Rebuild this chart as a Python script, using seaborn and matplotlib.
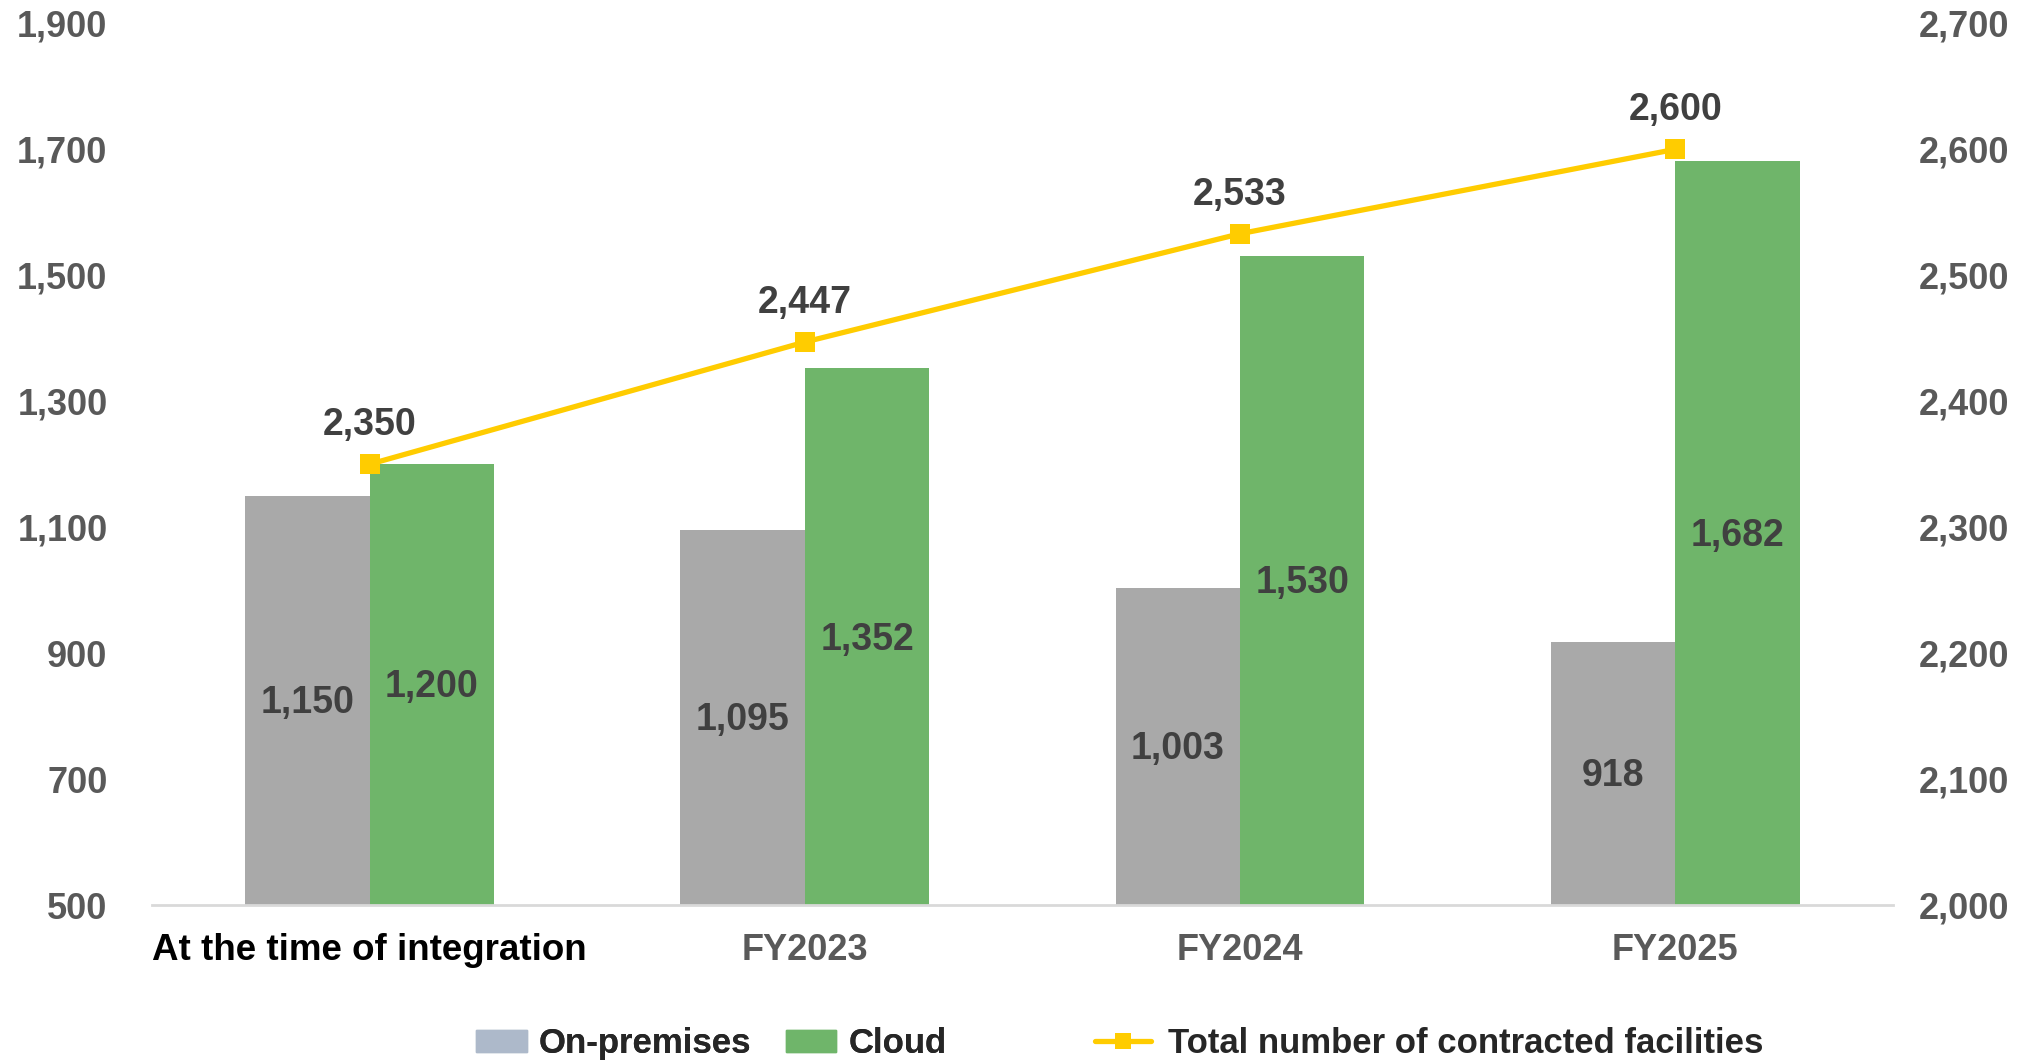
import numpy as np
import pandas as pd
import matplotlib
matplotlib.use("Agg")
import matplotlib.pyplot as plt
from matplotlib.lines import Line2D
from matplotlib.patches import Patch
import seaborn as sns

categories = ["At the time of integration", "FY2023", "FY2024", "FY2025"]
on_premises = [1150, 1095, 1003, 918]
cloud = [1200, 1352, 1530, 1682]
total_facilities = [2350, 2447, 2533, 2600]
left_ticks = [500, 700, 900, 1100, 1300, 1500, 1700, 1900]
right_ticks = [2000, 2100, 2200, 2300, 2400, 2500, 2600, 2700]

GREY = "#A9A9A9"
GREEN = "#6FB56A"
YELLOW = "#FFCC00"
LEGEND_GREY = "#ADB9CA"
TICK_COLOR = "#595959"
VALUE_COLOR = "#404040"

sns.set_theme(style="white")
plt.rcParams["font.family"] = ["Liberation Sans", "DejaVu Sans"]
plt.rcParams["font.weight"] = "bold"

df = pd.DataFrame({
    "category": categories * 2,
    "type": ["On-premises"] * 4 + ["Cloud"] * 4,
    "value": on_premises + cloud,
})

fig = plt.figure(figsize=(20.33, 10.63), dpi=100)
ax = fig.add_axes([0.0748, 0.1486, 0.931 - 0.0748, 0.978 - 0.1486])

sns.barplot(data=df, x="category", y="value", hue="type", order=categories,
            hue_order=["On-premises", "Cloud"], palette=[GREY, GREEN],
            width=0.572, saturation=1, legend=False, ax=ax, linewidth=0)

ax.set_ylim(500, 1900)
ax.set_xlim(-0.5, 3.5)
ax.set_yticks(left_ticks)
ax.set_yticklabels([f"{t:,}" for t in left_ticks])
ax.set_xlabel("")
ax.set_ylabel("")
for s in ["top", "left", "right"]:
    ax.spines[s].set_visible(False)
ax.spines["bottom"].set_color("#D9D9D9")
ax.spines["bottom"].set_linewidth(2)
ax.tick_params(axis="y", length=0, pad=32, labelsize=26, labelcolor=TICK_COLOR)
ax.tick_params(axis="x", length=0, pad=20, labelsize=26, labelcolor=TICK_COLOR)
for lbl in ax.get_yticklabels() + ax.get_xticklabels():
    lbl.set_fontweight("bold")
first = ax.get_xticklabels()[0]
first.set_color("black")
first.set_fontsize(26.5)

# value labels centred in the visible part of each bar
for container, values in zip(ax.containers, [on_premises, cloud]):
    for patch, v in zip(container.patches, values):
        xc = patch.get_x() + patch.get_width() / 2
        ax.annotate(f"{v:,}", (xc, (500 + v) / 2), xytext=(0, -2),
                    textcoords="offset points", ha="center", va="center",
                    fontsize=27, fontweight="bold", color=VALUE_COLOR)

ax2 = ax.twinx()
x_pos = np.arange(len(categories))
sns.lineplot(x=x_pos, y=total_facilities, ax=ax2, color=YELLOW, linewidth=3.8,
             marker="s", markersize=15, markeredgewidth=0, legend=False)
ax2.set_ylim(2000, 2700)
ax2.set_xlim(-0.5, 3.5)
ax2.set_yticks(right_ticks)
ax2.set_yticklabels([f"{t:,}" for t in right_ticks])
ax2.set_ylabel("")
for s in ["top", "left", "right", "bottom"]:
    ax2.spines[s].set_visible(False)
ax2.tick_params(axis="y", length=0, pad=19, labelsize=26, labelcolor=TICK_COLOR)
for lbl in ax2.get_yticklabels():
    lbl.set_fontweight("bold")
    lbl.set_horizontalalignment("left")

for xp, v in zip(x_pos, total_facilities):
    ax2.annotate(f"{v:,}", (xp, v), xytext=(0, 28), textcoords="offset points",
                 ha="center", va="center", fontsize=27, fontweight="bold",
                 color=VALUE_COLOR)

bar_handles = [Patch(color=LEGEND_GREY, label="On-premises"),
               Patch(color=GREEN, label="Cloud")]
leg1 = fig.legend(handles=bar_handles, loc="center", bbox_to_anchor=(0.35, 0.018),
                  ncol=2, frameon=False, prop={"size": 25, "weight": "bold"},
                  handlelength=1.45, handleheight=0.6, columnspacing=1.0,
                  handletextpad=0.35)
line_handle = [Line2D([0], [0], color=YELLOW, linewidth=3.8, marker="s",
                      markersize=12, markeredgewidth=0,
                      label="Total number of contracted facilities")]
leg2 = fig.legend(handles=line_handle, loc="center", bbox_to_anchor=(0.703, 0.018),
                  frameon=False, prop={"size": 25, "weight": "bold"},
                  handlelength=1.6, handletextpad=0.5)
fig.add_artist(leg1)

fig.savefig("out.png", dpi=100)
